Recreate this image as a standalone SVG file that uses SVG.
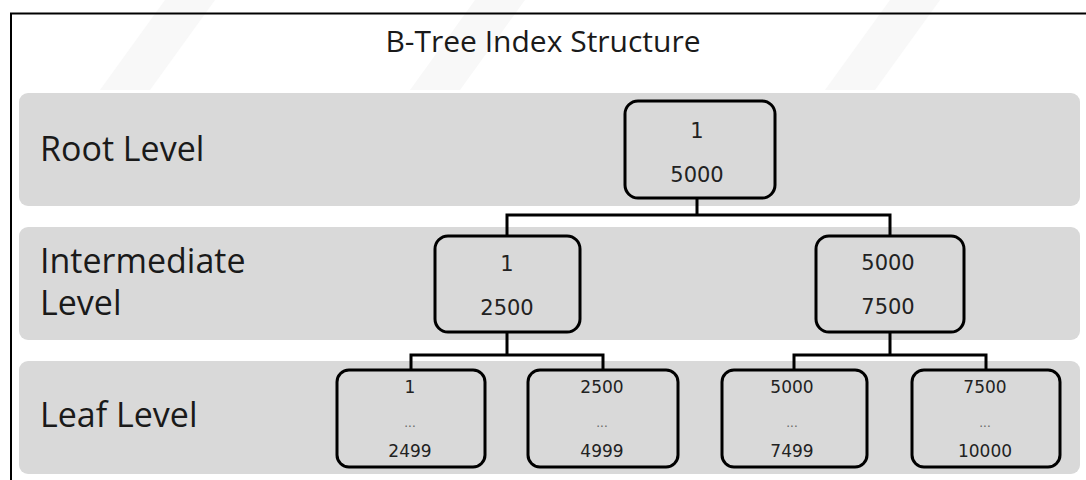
<svg xmlns="http://www.w3.org/2000/svg" width="1086" height="480" viewBox="0 0 1086 480">
  <style>
    .band { fill: #d9d9d9; }
    .node { fill: #d9d9d9; stroke: #000; stroke-width: 3; }
    .lbl { font-family: "Open Sans", "Liberation Sans", sans-serif; font-size: 34px; fill: #1a1a1a; }
    .title { font-family: "Open Sans", "Liberation Sans", sans-serif; font-size: 30px; fill: #1a1a1a; text-anchor: middle; }
    .num { font-family: "DejaVu Sans", Verdana, sans-serif; font-size: 21px; fill: #222; text-anchor: middle; }
    .small { font-family: "DejaVu Sans", Verdana, sans-serif; font-size: 17px; fill: #222; text-anchor: middle; }
    .dots { font-family: "DejaVu Sans", Verdana, sans-serif; font-size: 12px; fill: #666; text-anchor: middle; }
    .edge { fill: none; stroke: #000; stroke-width: 3; }
  </style>

  <rect width="1086" height="480" fill="#fff"/>

  <!-- faint diagonal background stripes -->
  <g fill="#f8f8f8">
    <polygon points="165,0 215,0 150,90 100,90"/>
    <polygon points="475,0 525,0 460,90 410,90"/>
    <polygon points="890,0 940,0 875,90 825,90"/>
  </g>

  <!-- outer frame -->
  <rect x="11" y="13.5" width="1100" height="500" fill="none" stroke="#000" stroke-width="2"/>

  <text class="title" x="543" y="52">B-Tree Index Structure</text>

  <!-- level bands -->
  <g id="root-level">
    <rect class="band" x="19" y="93" width="1061" height="113" rx="9"/>
    <text class="lbl" x="40" y="161">Root Level</text>
  </g>
  <g id="intermediate-level">
    <rect class="band" x="19" y="227" width="1061" height="113" rx="9"/>
    <text class="lbl" x="40" y="273">Intermediate</text>
    <text class="lbl" x="40" y="315">Level</text>
  </g>
  <g id="leaf-level">
    <rect class="band" x="19" y="361" width="1061" height="113" rx="9"/>
    <text class="lbl" x="40" y="427">Leaf Level</text>
  </g>

  <!-- connectors -->
  <g id="connectors">
    <path class="edge" d="M697,198 V215 M507,236 V215 H890 V236"/>
    <path class="edge" d="M507,332 V355 M411,370 V355 H603 V370"/>
    <path class="edge" d="M890,332 V355 M794,370 V355 H986 V370"/>
  </g>

  <!-- root node -->
  <g id="node-root">
    <rect class="node" x="625" y="101" width="150" height="97" rx="13"/>
    <text class="num" x="697" y="138">1</text>
    <text class="num" x="697" y="182">5000</text>
  </g>

  <!-- intermediate nodes -->
  <g id="node-int-1">
    <rect class="node" x="435" y="236" width="145" height="96" rx="13"/>
    <text class="num" x="507" y="271">1</text>
    <text class="num" x="507" y="315">2500</text>
  </g>
  <g id="node-int-2">
    <rect class="node" x="816" y="236" width="148" height="96" rx="13"/>
    <text class="num" x="888" y="270">5000</text>
    <text class="num" x="888" y="314">7500</text>
  </g>

  <!-- leaf nodes -->
  <g id="node-leaf-1">
    <rect class="node" x="337" y="370" width="148" height="97" rx="12"/>
    <text class="small" x="410" y="393">1</text>
    <text class="dots" x="410" y="427">...</text>
    <text class="small" x="410" y="457">2499</text>
  </g>
  <g id="node-leaf-2">
    <rect class="node" x="528" y="370" width="150" height="97" rx="12"/>
    <text class="small" x="602" y="393">2500</text>
    <text class="dots" x="602" y="427">...</text>
    <text class="small" x="602" y="457">4999</text>
  </g>
  <g id="node-leaf-3">
    <rect class="node" x="722" y="370" width="145" height="97" rx="12"/>
    <text class="small" x="792" y="393">5000</text>
    <text class="dots" x="792" y="427">...</text>
    <text class="small" x="792" y="457">7499</text>
  </g>
  <g id="node-leaf-4">
    <rect class="node" x="912" y="370" width="148" height="97" rx="12"/>
    <text class="small" x="985" y="393">7500</text>
    <text class="dots" x="985" y="427">...</text>
    <text class="small" x="985" y="457">10000</text>
  </g>
</svg>
